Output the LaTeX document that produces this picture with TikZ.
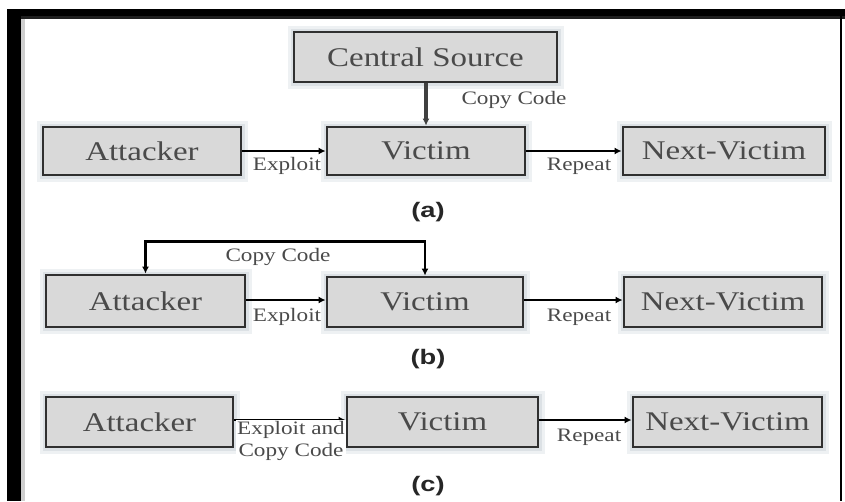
\documentclass[tikz,border=0pt]{standalone}
\usepackage{fontspec}
\usetikzlibrary{arrows.meta}
\newfontfamily\boxserif[FakeStretch=1.22]{Liberation Serif}
\newfontfamily\capsans[FakeStretch=1.3]{Liberation Sans}
\definecolor{boxfill}{HTML}{D9D9D9}
\definecolor{boxline}{HTML}{303030}
\definecolor{haloA}{HTML}{EEF1F3}
\definecolor{haloB}{HTML}{DCE1E5}
\definecolor{inktext}{HTML}{4A4A4A}
\tikzset{
  stage/.style={draw=boxline, line width=2.8pt, fill=boxfill,
    preaction={draw=haloA, line width=13pt},
    preaction={draw=haloB, line width=7pt},
    text=inktext, font=\boxserif\fontsize{27}{30}\selectfont,
    inner sep=0pt},
  lbl/.style={text=inktext, font=\boxserif\fontsize{19}{22}\selectfont, inner sep=1pt, align=center},
  subcap/.style={text=black!85, font=\capsans\bfseries\fontsize{21}{24}\selectfont, inner sep=0pt},
  arr/.style={draw=black, line width=2.4pt, -{Latex[length=7pt,width=7pt]}},
  arrs/.style={draw=black, line width=2.4pt, {Latex[length=7pt,width=7pt]}-{Latex[length=7pt,width=7pt]}}
}
\begin{document}
\begin{tikzpicture}[x=1pt,y=-1pt]
\useasboundingbox (0,0) rectangle (845,501);
\fill[white] (0,0) rectangle (845,501);
% frame
\fill[black] (7,9) rectangle (21,501);
\fill[black] (7,9) rectangle (845,16);
\fill[black!88] (21,16) rectangle (845,19);
\fill[black!19] (21,19) rectangle (25,501);
\fill[black] (840,16) rectangle (842,501);

% (a) central source
\node[stage, minimum width=263pt, minimum height=50pt] (cs) at (425.5,57) {Central Source};
\node[stage, minimum width=198pt, minimum height=48pt] (aa) at (142,151) {Attacker};
\node[stage, minimum width=198pt, minimum height=48pt] (va) at (426,151) {Victim};
\node[stage, minimum width=202pt, minimum height=48pt] (na) at (724,151) {Next-Victim};
\draw[arr, draw=black!75, line width=3.5pt] (cs.south -| va.north) -- (va.north);
\draw[arr] (aa.east) -- (va.west);
\draw[arr] (va.east) -- (na.west);
\node[lbl] (la1) at (514,100) {Copy Code};
\node[lbl] (la2) at (287,166) {Exploit};
\node[lbl] (la3) at (579,166) {Repeat};
\node[subcap] (capa) at (428,212) {(a)};

% (b) attacker supplies the code
\node[stage, minimum width=199pt, minimum height=52pt] (ab) at (145.5,301) {Attacker};
\node[stage, minimum width=196pt, minimum height=50pt] (vb) at (425,302) {Victim};
\node[stage, minimum width=198pt, minimum height=50pt] (nb) at (723,302) {Next-Victim};
\draw[arrs] (ab.north) -- ++(0,-32) -| (vb.north);
\draw[arr] (ab.east |- 0,300) -- (vb.west |- 0,300);
\draw[arr] (vb.east |- 0,300) -- (nb.west |- 0,300);
\node[lbl] (lb1) at (278,257) {Copy Code};
\node[lbl] (lb2) at (287,317) {Exploit};
\node[lbl] (lb3) at (579,317) {Repeat};
\node[subcap] (capb) at (428,359) {(b)};

% (c) self-carried code
\node[stage, minimum width=187pt, minimum height=50pt] (ac) at (139.5,422) {Attacker};
\node[stage, minimum width=191pt, minimum height=50pt] (vc) at (442.5,422) {Victim};
\node[stage, minimum width=189pt, minimum height=50pt] (nc) at (727.5,422) {Next-Victim};
\draw[arr] (ac.east |- 0,420) -- (vc.west |- 0,420);
\draw[arr] (vc.east |- 0,420) -- (nc.west |- 0,420);
\node[lbl, fill=white] (lc1) at (291,441) {Exploit and\\Copy Code};
\node[lbl] (lc3) at (589,437) {Repeat};
\node[subcap] (capc) at (428,486) {(c)};
\end{tikzpicture}
\end{document}
